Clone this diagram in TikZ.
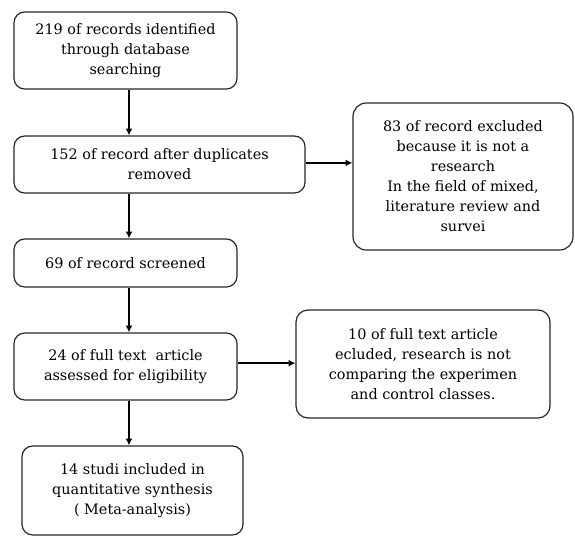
\documentclass[tikz,border=0pt]{standalone}
\usepackage{fontspec}
\setmainfont{DejaVu Serif}
\usetikzlibrary{arrows.meta}

\begin{document}
\begin{tikzpicture}[x=0.75pt, y=-0.75pt,
    caja/.style={draw=black!85, line width=0.9pt, rounded corners=8pt, align=center, inner sep=2pt,
        font=\fontsize{10.8}{15}\selectfont},
    flecha/.style={-{Latex[length=5pt,width=5pt]}, line width=1.6pt}]
    \useasboundingbox (0,0) rectangle (575,536);

    % Cajas de la columna principal
    \node[caja, minimum width=167.25pt, minimum height=57.75pt] (ident) at (125.5,50.5)
        {219 of records identified\\ through database\\ searching};
    \node[caja, minimum width=218.25pt, minimum height=42.75pt] (dupl) at (159.5,164.5)
        {152 of record after duplicates\\ removed};
    \node[caja, minimum width=167.25pt, minimum height=36pt] (cribado) at (125.5,263)
        {69 of record screened};
    \node[caja, minimum width=167.25pt, minimum height=50.25pt] (elig) at (125.5,366.5)
        {24 of full text~ article\\ assessed for eligibility};
    \node[caja, minimum width=165.75pt, minimum height=66.75pt] (incl) at (132.5,490.5)
        {14 studi included in\\ quantitative synthesis\\ ( Meta-analysis)};

    % Cajas de exclusion
    \node[caja, rounded corners=10pt, minimum width=165pt, minimum height=110.25pt] (excl1) at (463,176.5)
        {83 of record excluded\\ because it is not a\\ research\\ In the field of mixed,\\ literature review and\\ survei};
    \node[caja, rounded corners=9pt, minimum width=190.5pt, minimum height=81pt] (excl2) at (423,364)
        {10 of full text article\\ ecluded, research is not\\ comparing the experimen\\ and control classes.};

    % Flechas verticales
    \coordinate (eje) at (129,0);
    \draw[flecha] (eje |- ident.south) -- (eje |- dupl.north);
    \draw[flecha] (eje |- dupl.south) -- (eje |- cribado.north);
    \draw[flecha] (eje |- cribado.south) -- (eje |- elig.north);
    \draw[flecha] (eje |- elig.south) -- (eje |- incl.north);

    % Flechas horizontales
    \draw[flecha] ([yshift=1.2pt]dupl.east) -- ([yshift=1.2pt]dupl.east -| excl1.west);
    \draw[flecha] ([yshift=2.5pt]elig.east) -- ([yshift=2.5pt]elig.east -| excl2.west);
\end{tikzpicture}
\end{document}
